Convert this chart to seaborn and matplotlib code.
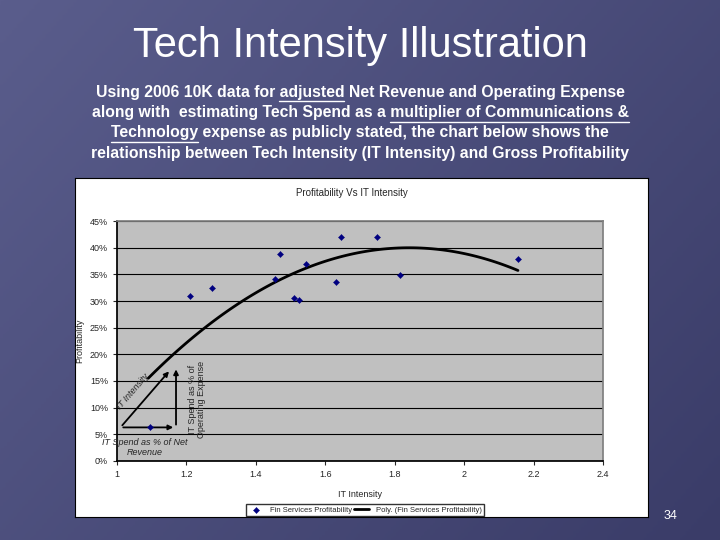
import numpy as np
import matplotlib
matplotlib.use("Agg")
import matplotlib.pyplot as plt
import seaborn as sns
import pandas as pd

it_intensity = [1.095, 1.21, 1.275, 1.455, 1.47, 1.51, 1.525, 1.545, 1.63, 1.645, 1.75, 1.815, 2.155]
profitability = [6.3, 31.0, 32.5, 34.2, 38.8, 30.6, 30.2, 37.0, 33.5, 42.0, 42.0, 34.9, 37.8]
y_ticks = [0, 5, 10, 15, 20, 25, 30, 35, 40, 45]
x_ticks = [1, 1.2, 1.4, 1.6, 1.8, 2, 2.2, 2.4]

sns.set_theme(style="white")
plt.rcParams['font.family'] = ['Liberation Sans', 'DejaVu Sans']

fig = plt.figure(figsize=(7.2, 5.4), dpi=100)
fig.patch.set_facecolor('#4b4e7c')
W, H = 720, 540
def box(x0, y0, x1, y1):
    return [x0 / W, 1 - y1 / H, (x1 - x0) / W, (y1 - y0) / H]

bg = fig.add_axes([0, 0, 1, 1], zorder=-10)
grad = np.linspace(0, 1, 256)[None, :] * 0.6 + np.linspace(0, 1, 256)[:, None] * 0.4
bg.imshow(grad, cmap=matplotlib.colors.LinearSegmentedColormap.from_list('b', ['#5a5d8c', '#3a3c68']), aspect='auto', extent=[0, 1, 0, 1])
bg.axis('off')

fig.text(0.5, 1 - 46 / H, "Tech Intensity Illustration", ha='center', va='center', color='white', fontsize=30)

lines = [
    ("Using 2006 10K data for ", "adjusted", " Net Revenue and Operating Expense"),
    ("along with  estimating Tech Spend as a ", "multiplier of Communications &", ""),
    ("", "Technology", " expense as publicly stated, the chart below shows the"),
    ("relationship between Tech Intensity (IT Intensity) and Gross Profitability", "", ""),
]
FS = 11.3
fig.canvas.draw()
r = fig.canvas.get_renderer()
def width(s):
    if not s:
        return 0
    t = fig.text(0, 0, s, fontsize=FS, fontweight='bold')
    w = t.get_window_extent(r).width
    t.remove()
    return w
for i, (a, b, c) in enumerate(lines):
    y = 92 + i * 20.5
    full = a + b + c
    fig.text(0.5, 1 - y / H, full, ha='center', va='center', color='white', fontsize=FS, fontweight='bold')
    if b:
        tw = width(full)
        x0 = W / 2 - tw / 2 + width(a)
        x1 = x0 + width(b)
        fig.add_artist(plt.Line2D([x0 / W, x1 / W], [1 - (y + 9) / H] * 2, color='white', lw=1))

outer = fig.add_axes(box(75, 178, 648, 517))
outer.set_facecolor('white')
outer.set_xticks([]); outer.set_yticks([])
for s in outer.spines.values():
    s.set_color('black'); s.set_linewidth(0.8)
fig.text(352 / W, 1 - 193 / H, "Profitability Vs IT Intensity", ha='center', va='center', fontsize=7)

ax = fig.add_axes(box(117, 221, 603, 461))
ax.set_facecolor('#c0c0c0')
df = pd.DataFrame({'x': it_intensity, 'y': profitability})
coef = np.polyfit(it_intensity, profitability, 2)
xs = np.linspace(1.09, 2.155, 100)
sns.scatterplot(data=df, x='x', y='y', ax=ax, color='#000080', marker='D', s=10, edgecolor='#000080',
                label='Fin Services Profitability', zorder=4)
ax.plot(xs, np.polyval(coef, xs), color='black', lw=2, label='Poly. (Fin Services Profitability)', zorder=3)
ax.set_xlim(1, 2.4)
ax.set_ylim(0, 45)
ax.set_xticks(x_ticks)
ax.set_xticklabels([f"{v:g}" for v in x_ticks], fontsize=6.5)
ax.set_yticks(y_ticks)
ax.set_yticklabels([f"{v}%" for v in y_ticks], fontsize=6.5)
ax.yaxis.grid(True, color='black', lw=0.8)
ax.tick_params(axis='both', length=3, direction='out', left=True, bottom=True, width=0.8)
for k in ['top', 'right']:
    ax.spines[k].set_color('#808080')
for k in ['left', 'bottom']:
    ax.spines[k].set_color('black')
ax.set_xlabel("IT Intensity", fontsize=6.5, labelpad=8)
ax.set_ylabel("Profitability", fontsize=6.5, labelpad=4)

ap = dict(arrowstyle='-|>', color='black', lw=1.3, mutation_scale=7)
ax.annotate('', xy=(1.17, 6.3), xytext=(1.01, 6.3), arrowprops=ap)
ax.annotate('', xy=(1.17, 17.7), xytext=(1.17, 6.3), arrowprops=ap)
ax.annotate('', xy=(1.155, 17.2), xytext=(1.01, 6.3), arrowprops=ap)
ax.text(1.08, 2.5, "IT Spend as % of Net\nRevenue", ha='center', va='center', fontsize=6.5, style='italic', linespacing=1.1)
ax.text(1.23, 11.5, "IT Spend as % of\nOperating Expense", ha='center', va='center', fontsize=6.5, rotation=90, linespacing=1.0)
ax.text(1.045, 13.0, "IT Intensity", ha='center', va='center', fontsize=6.5, style='italic', rotation=49)

ax.legend(loc='center', bbox_to_anchor=(0.51, -0.205), ncol=2, fontsize=5.5, frameon=True,
          fancybox=False, edgecolor='black', handlelength=2, columnspacing=0.3, borderpad=0.3)

fig.text(671 / W, 1 - 516 / H, "34", ha='center', va='center', color='white', fontsize=9)

fig.savefig("out.png", dpi=100, facecolor=fig.get_facecolor())
